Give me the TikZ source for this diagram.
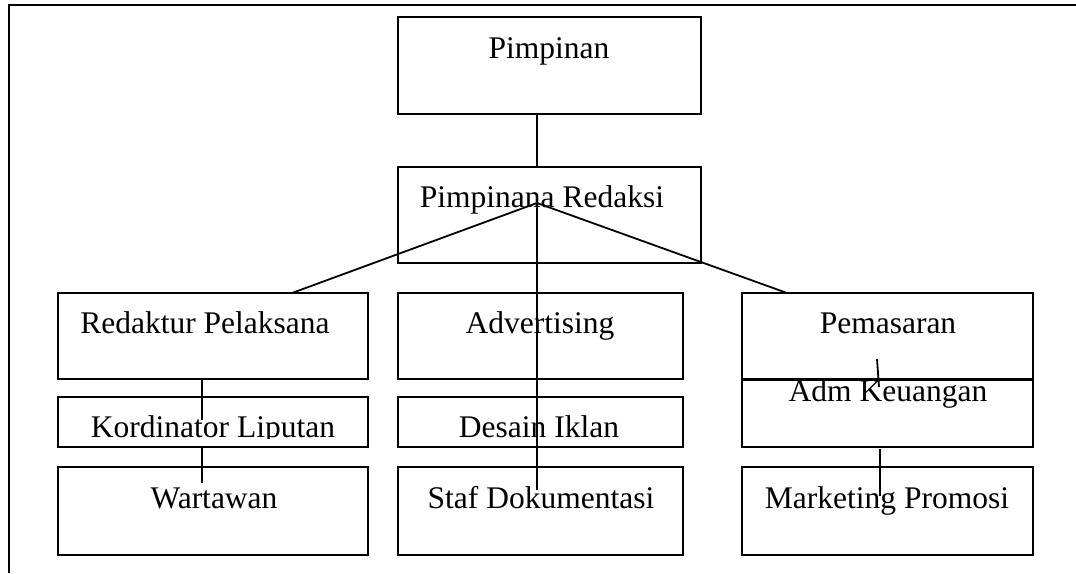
\documentclass[tikz,border=0pt]{standalone}
\usepackage{fontspec}
\setmainfont{Liberation Serif}
\usetikzlibrary{calc}
\begin{document}
\begin{tikzpicture}[x=1pt,y=-1pt,
  box/.style={draw=black,line width=1.8pt,rectangle,inner sep=0pt,outer sep=0pt},
  lbl/.style={anchor=base,inner sep=0pt,font=\fontsize{31.5}{36}\selectfont},
  conn/.style={draw=black,line width=1.8pt}]
\useasboundingbox (0,0) rectangle (1076,573);
\draw[line width=2pt] (1076,5) -- (9,5) -- (9,573);
% boxes
\node[box,minimum width=303pt,minimum height=97pt] (pim) at (549.5,65.5) {};
\node[box,minimum width=303pt,minimum height=96pt] (red) at (549.5,215) {};
\node[box,minimum width=310pt,minimum height=86pt] (rp) at (213,336) {};
\node[box,minimum width=285pt,minimum height=86pt] (adv) at (540.5,336) {};
\node[box,minimum width=291pt,minimum height=86pt] (pem) at (887.5,336) {};
\node[box,minimum width=310pt,minimum height=50pt] (kor) at (213,422) {};
\node[box,minimum width=285pt,minimum height=50pt] (des) at (540.5,422) {};
\node[box,minimum width=291pt,minimum height=67pt] (adm) at (887.5,413.5) {};
\node[box,minimum width=310pt,minimum height=88pt] (war) at (213,511) {};
\node[box,minimum width=285pt,minimum height=88pt] (staf) at (540.5,511) {};
\node[box,minimum width=291pt,minimum height=88pt] (mkt) at (887.5,511) {};
% labels
\node[lbl] (tpim) at (549,58) {Pimpinan};
\node[lbl] (tred) at (542,207) {Pimpinana Redaksi};
\node[lbl] (trp) at (205,333) {Redaktur Pelaksana};
\node[lbl] (tadv) at (540,333) {Advertising};
\node[lbl] (tpem) at (888,333) {Pemasaran};
\begin{scope}
  \clip (kor.north west) rectangle ($(kor.south east)+(0,-9)$);
  \node[lbl] (tkor) at (213,437) {Kordinator Liputan};
\end{scope}
\node[lbl] (tdes) at (539,437) {Desain Iklan};
\node[lbl] (tadm) at (888,401) {Adm Keuangan};
\node[lbl] (twar) at (214,508) {Wartawan};
\node[lbl] (tstaf) at (541,508) {Staf Dokumentasi};
\node[lbl] (tmkt) at (887,508) {Marketing Promosi};
% connector points
\coordinate (apex) at (537,203);
\coordinate (rpx) at ($(rp.north east)+(-76,0)$);
\coordinate (pemx) at ($(pem.north west)+(45,0)$);
\coordinate (stafend) at ($(staf.north -| apex)+(0,23)$);
\coordinate (kx) at ($(rp.south west)+(144,0)$);
\coordinate (kin) at ($(kx |- kor.north)+(0,23)$);
\coordinate (kbot) at ($(kx |- kor.south)+(0,1)$);
\coordinate (win) at ($(kx |- war.north)+(0,16)$);
\coordinate (pt1) at ($(pem.south west)+(135,-20)$);
\coordinate (pt2) at ($(adm.north west)+(137,7)$);
\coordinate (ax) at ($(adm.south west)+(138,2)$);
\coordinate (mx) at ($(mkt.north west)+(138,29)$);
% connectors
\draw[conn] (pim.south -| apex) -- (red.north -| apex);
\draw[conn] (apex) -- (rpx);
\draw[conn] (apex) -- (pemx);
\draw[conn] (apex) -- (stafend);
\draw[conn] (kx) -- (kin);
\draw[conn] (kbot) -- (win);
\draw[conn] (pt1) -- (pt2);
\draw[conn] (ax) -- (mx);
\end{tikzpicture}
\end{document}
